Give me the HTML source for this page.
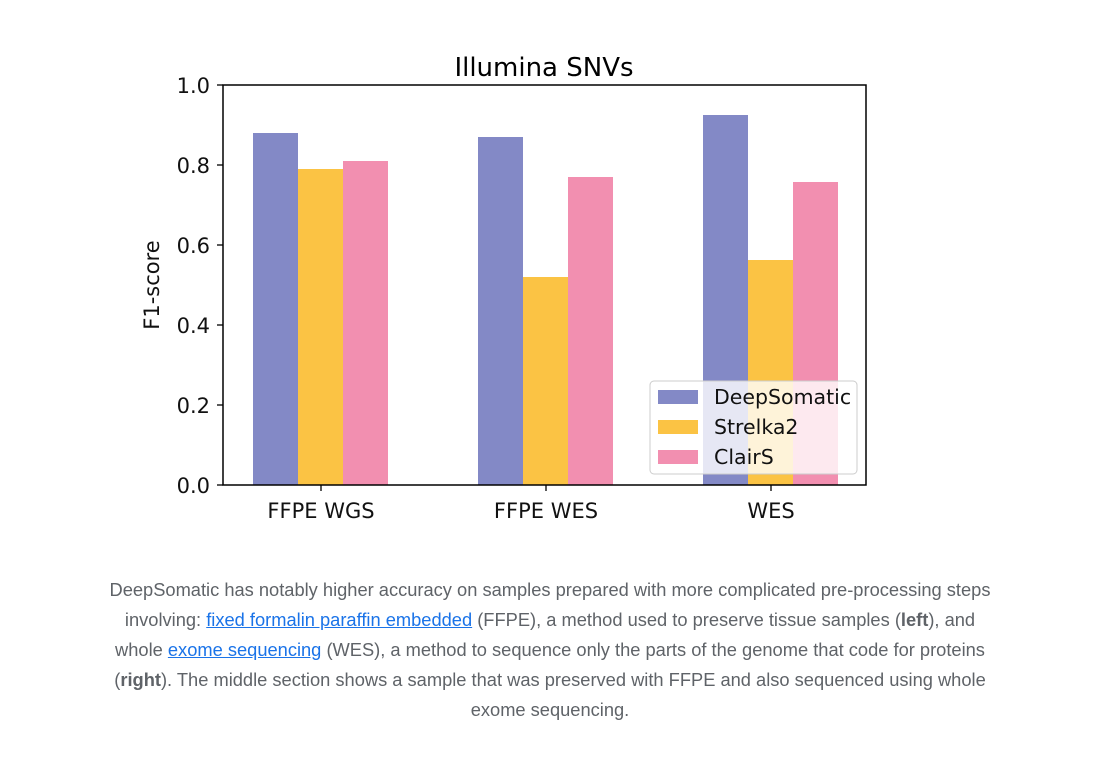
<!DOCTYPE html>
<html><head><meta charset="utf-8"><style>
body{margin:0;background:#fff;width:1115px;height:757px;overflow:hidden;position:relative;font-family:"Liberation Sans",sans-serif}
.cap{position:absolute;left:0;width:1100px;text-align:center;font-size:18.3px;color:#5f6368;line-height:30px;white-space:nowrap}
.cap a{color:#1a73e8;text-decoration:underline}
</style></head><body>
<svg width="1115" height="560" style="position:absolute;left:0;top:0" font-family="DejaVu Sans, sans-serif">
<text x="544" y="76" font-size="26" text-anchor="middle" fill="#000">Illumina SNVs</text>
<g>
<rect x="253" y="133" width="45" height="352" fill="#8389c6"/>
<rect x="298" y="169" width="45" height="316" fill="#fbc344"/>
<rect x="343" y="161" width="45" height="324" fill="#f28fb0"/>
<rect x="478" y="137" width="45" height="348" fill="#8389c6"/>
<rect x="523" y="277" width="45" height="208" fill="#fbc344"/>
<rect x="568" y="177" width="45" height="308" fill="#f28fb0"/>
<rect x="703" y="115" width="45" height="370" fill="#8389c6"/>
<rect x="748" y="260" width="45" height="225" fill="#fbc344"/>
<rect x="793" y="182" width="45" height="303" fill="#f28fb0"/>
</g>
<rect x="650" y="381" width="207" height="93" rx="4" fill="#fff" fill-opacity="0.8" stroke="#ccc"/>
<rect x="658" y="390" width="40" height="14" fill="#8389c6"/>
<rect x="658" y="420" width="40" height="14" fill="#fbc344"/>
<rect x="658" y="450" width="40" height="14" fill="#f28fb0"/>
<g font-size="20.5" fill="#111">
<text x="714" y="404">DeepSomatic</text>
<text x="714" y="434">Strelka2</text>
<text x="714" y="464">ClairS</text>
</g>
<rect x="223" y="85" width="643" height="400" fill="none" stroke="#000" stroke-width="1.5"/>
<g stroke="#000" stroke-width="1.3">
<line x1="217" y1="85" x2="223" y2="85"/><line x1="217" y1="165" x2="223" y2="165"/>
<line x1="217" y1="245" x2="223" y2="245"/><line x1="217" y1="325" x2="223" y2="325"/>
<line x1="217" y1="405" x2="223" y2="405"/><line x1="217" y1="485" x2="223" y2="485"/>
<line x1="321" y1="485" x2="321" y2="491"/><line x1="546" y1="485" x2="546" y2="491"/><line x1="771" y1="485" x2="771" y2="491"/>
</g>
<g font-size="21" fill="#111" text-anchor="end">
<text x="210" y="93">1.0</text><text x="210" y="173">0.8</text><text x="210" y="253">0.6</text>
<text x="210" y="333">0.4</text><text x="210" y="413">0.2</text><text x="210" y="493">0.0</text>
</g>
<g font-size="21" fill="#111" text-anchor="middle">
<text x="321" y="518">FFPE WGS</text><text x="546" y="518">FFPE WES</text><text x="771" y="518">WES</text>
</g>
<text transform="translate(159,285) rotate(-90)" font-size="21" text-anchor="middle" fill="#111">F1-score</text>
</svg>
<div class="cap" style="top:575px">DeepSomatic has notably higher accuracy on samples prepared with more complicated pre-processing steps</div>
<div class="cap" style="top:605px">involving: <a>fixed formalin paraffin embedded</a> (FFPE), a method used to preserve tissue samples (<b>left</b>), and</div>
<div class="cap" style="top:635px">whole <a>exome sequencing</a> (WES), a method to sequence only the parts of the genome that code for proteins</div>
<div class="cap" style="top:665px">(<b>right</b>). The middle section shows a sample that was preserved with FFPE and also sequenced using whole</div>
<div class="cap" style="top:695px">exome sequencing.</div>
</body></html>
